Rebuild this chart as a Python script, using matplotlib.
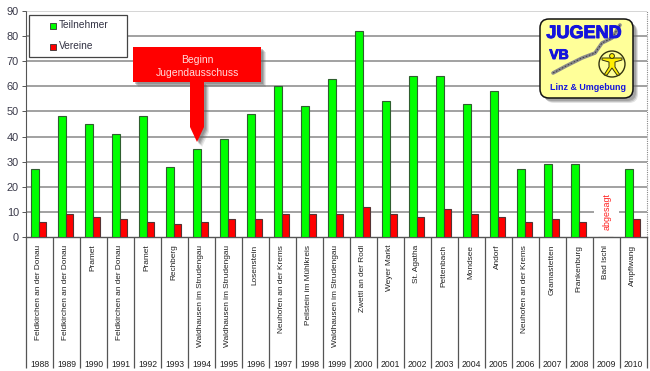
import matplotlib
matplotlib.use("Agg")
import matplotlib.pyplot as plt
import matplotlib.patheffects as pe
import numpy as np
from matplotlib.patches import Rectangle, Polygon, FancyBboxPatch, Circle

plt.rcParams['font.family'] = ['Liberation Sans', 'DejaVu Sans']

years = list(range(1988, 2011))
places = ["Feldkirchen an der Donau", "Feldkirchen an der Donau", "Pramet", "Feldkirchen an der Donau",
          "Pramet", "Rechberg", "Waldhausen im Strudengau", "Waldhausen im Strudengau", "Losenstein",
          "Neuhofen an der Krems", "Peilstein im Mühlkreis", "Waldhausen im Strudengau", "Zwettl an der Rodl",
          "Weyer Markt", "St. Agatha", "Pettenbach", "Mondsee", "Andorf", "Neuhofen an der Krems",
          "Gramastetten", "Frankenburg", "Bad Ischl", "Ampflwang"]
teilnehmer = [27, 48, 45, 41, 48, 28, 35, 39, 49, 60, 52, 63, 82, 54, 64, 64, 53, 58, 27, 29, 29, 0, 27]
vereine = [6, 9, 8, 7, 6, 5, 6, 7, 7, 9, 9, 9, 12, 9, 8, 11, 9, 8, 6, 7, 6, 0, 7]
yticks = list(range(0, 91, 10))

W, H = 650, 371
fig = plt.figure(figsize=(W / 100, H / 100), dpi=100, facecolor='white')
L, R, T, B = 26, 647, 11, 237
ax = fig.add_axes([L / W, 1 - B / H, (R - L) / W, (B - T) / H])
x = np.arange(len(years)) + 0.47
bw = 0.277
ax.bar(x - bw / 2, teilnehmer, bw, color='#00ff00', edgecolor='#2f5f2f', linewidth=0.8, zorder=3)
ax.bar(x + bw / 2, vereine, bw, color='#ff0000', edgecolor='#553333', linewidth=0.8, zorder=3)
ax.set_xlim(0, len(years))
ax.set_ylim(0, 90)
ax.set_yticks(yticks)
for v in yticks[1:]:
    ax.axhline(v, color='#cccccc' if v == 90 else '#8c8c8c', lw=1.15, zorder=1)
for s in ('top', 'right'):
    ax.spines[s].set_visible(False)
ax.spines['left'].set_linestyle((0, (1, 1)))
ax.spines['left'].set_color('#555555')
ax.spines['left'].set_linewidth(0.8)
ax.spines['bottom'].set_color('#555555')
ax.spines['bottom'].set_linewidth(1.0)
ax.axvline(len(years), color='#888888', lw=0.8, ls=(0, (1, 1)), clip_on=False)
ax.tick_params(axis='y', length=3, width=0.7, color='#555555', labelsize=7.9,
               labelcolor='#3a3a4a', pad=2)
ax.set_xticks(np.arange(len(years) + 1))
ax.set_xticklabels([])
ax.tick_params(axis='x', which='major', length=94, width=0.9, color='#555555', direction='out')
ax.set_xticks(np.arange(len(years)) + 0.5, minor=True)
ax.set_xticklabels([str(y) for y in years], minor=True)
ax.tick_params(axis='x', which='minor', length=0, pad=88.5, labelsize=6.2, labelcolor='#222222')
for xi, p in zip(np.arange(len(years)) + 0.5, places):
    ax.annotate(p, (xi, 0), xycoords=ax.get_xaxis_transform(), xytext=(-0.6, -5.5),
                textcoords='offset points', rotation=90, ha='center', va='top',
                fontsize=5.95, color='#222222')
ax.add_patch(Rectangle((21.04, 7.5), 0.92, 5, facecolor='white', edgecolor='none', zorder=2))
ax.text(21.52, 10, 'abgesagt', rotation=90, ha='center', va='center', fontsize=6.4, color='#ff2020', zorder=4)

# overlay in pixel coordinates (annotations, legend, logo)
ov = fig.add_axes([0, 0, 1, 1], facecolor='none')
ov.set_xlim(0, W)
ov.set_ylim(H, 0)
ov.axis('off')

# legend
ov.add_patch(Rectangle((29, 15), 98, 42, facecolor='white', edgecolor='#444444', lw=0.9))
ov.add_patch(Rectangle((50, 23), 5.5, 5.5, facecolor='#00ff00', edgecolor='#333333', lw=0.6))
ov.add_patch(Rectangle((50, 44), 5.5, 5.5, facecolor='#ff0000', edgecolor='#333333', lw=0.6))
ov.text(59, 25.5, 'Teilnehmer', fontsize=7.3, color='#333344', va='center')
ov.text(59, 46, 'Vereine', fontsize=7.3, color='#333344', va='center')

# callout
pts = np.array([(133, 47), (261, 47), (261, 82), (204, 82), (204, 127), (197, 142), (190, 127), (190, 82), (133, 82)])
for d, a in ((5, .15), (4, .2), (3, .3), (2, .35)):
    ov.add_patch(Polygon(pts + d, closed=True, facecolor='#666666', edgecolor='none', alpha=a))
ov.add_patch(Polygon(pts, closed=True, facecolor='#ff0000', edgecolor='none'))
ov.text(197, 60, 'Beginn', color='#ffdcdc', fontsize=7.5, ha='center', va='center')
ov.text(197, 73, 'Jugendausschuss', color='#ffdcdc', fontsize=7.5, ha='center', va='center')

# logo
for d, a in ((5, .2), (4, .3), (3, .4)):
    ov.add_patch(FancyBboxPatch((547 + d, 26 + d), 79, 65, boxstyle='round,pad=7,rounding_size=9',
                                facecolor='#777777', edgecolor='none', alpha=a))
ov.add_patch(FancyBboxPatch((547, 26), 79, 65, boxstyle='round,pad=7,rounding_size=9',
                            facecolor='#ffff99', edgecolor='#111111', lw=1.1))
bold = [pe.withStroke(linewidth=0.7, foreground='#1414dd')]
ov.text(584, 33.5, 'JUGEND', color='#1414dd', fontsize=13, fontweight='bold', ha='center', va='center',
        path_effects=bold)
ov.text(559, 55, 'VB', color='#1414dd', fontsize=10, fontweight='bold', ha='center', va='center', path_effects=bold)
ov.text(588.5, 88, 'Linz & Umgebung', color='#1414dd', fontsize=6.4, fontweight='bold', ha='center', va='center')
snake_x = [553, 566, 582, 595, 602, 612, 620]
snake_y = [73, 66, 58, 53, 43, 38, 25]
ov.plot(snake_x, snake_y, color='#8a8a8a', lw=2.6, solid_capstyle='round')
ov.plot(snake_x, snake_y, color='#333333', lw=0.6, ls=(0, (2, 2)))
ov.add_patch(Circle((612, 64), 13, facecolor='none', edgecolor='#333311', lw=1.0))
ov.add_patch(Polygon([(602, 58), (622, 58), (622, 60), (615, 62), (615, 67), (620, 75), (617, 75),
                      (612, 68), (607, 75), (604, 75), (609, 67), (609, 62), (602, 60)],
                     closed=True, facecolor='#ffee00', edgecolor='#333311', lw=0.7))
ov.add_patch(Circle((612, 56), 2.4, facecolor='#ffee00', edgecolor='#333311', lw=0.7))

fig.savefig('out.png', dpi=100)
